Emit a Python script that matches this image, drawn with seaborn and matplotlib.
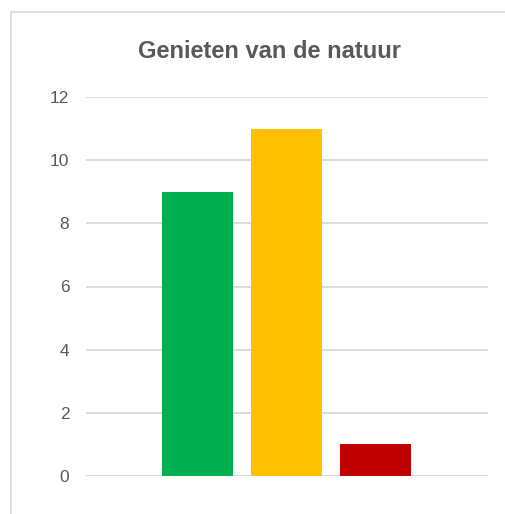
import matplotlib
matplotlib.use("Agg")
import matplotlib.pyplot as plt
import seaborn as sns
import pandas as pd
from matplotlib.lines import Line2D

categories = ["Groen", "Geel", "Rood"]
values = [9, 11, 1]
colors = ["#00B050", "#FFC000", "#C00000"]
yticks = [0, 2, 4, 6, 8, 10, 12]
title = "Genieten van de natuur"

sns.set_theme(style="white")
plt.rcParams["font.family"] = ["Liberation Sans", "DejaVu Sans"]

W, H = 506, 514
fig = plt.figure(figsize=(W / 100, H / 100), dpi=100)
ax = fig.add_axes([86 / W, 1 - 476 / H, (488 - 86) / W, (476 - 97) / H])

df = pd.DataFrame({"cat": categories, "val": values})
sns.barplot(data=df, x="cat", y="val", hue="cat", palette=colors, width=0.8,
            legend=False, ax=ax, saturation=1, linewidth=0, edgecolor="none")

# x positions: bar centres at 197.5, 286.5, 376.5 px
unit = 89.0
ax.set_xlim((86 - 197.5) / unit, (488 - 197.5) / unit)
ax.set_ylim(0, 12)
ax.set_yticks(yticks)
ax.set_yticklabels([str(t) for t in yticks], fontsize=12.5, color="#595959")
ax.set_xticks([])
ax.set_xlabel("")
ax.set_ylabel("")
ax.tick_params(axis="y", length=0, pad=12)
for s in ax.spines.values():
    s.set_visible(False)
ax.yaxis.grid(True, color="#D9D9D9", linewidth=1.3)
ax.set_axisbelow(True)

fig.text(270 / W, 1 - 52 / H, title, ha="center", va="center",
         fontsize=17, fontweight="bold", color="#595959")

# chart border (left and top visible)
fig.add_artist(Line2D([11.5 / W, 11.5 / W], [0, 1 - 11.5 / H], color="#D9D9D9",
                      linewidth=1.2, transform=fig.transFigure))
fig.add_artist(Line2D([11.5 / W, 1], [1 - 11.5 / H, 1 - 11.5 / H], color="#D9D9D9",
                      linewidth=1.2, transform=fig.transFigure))

fig.savefig("out.png", dpi=100)
